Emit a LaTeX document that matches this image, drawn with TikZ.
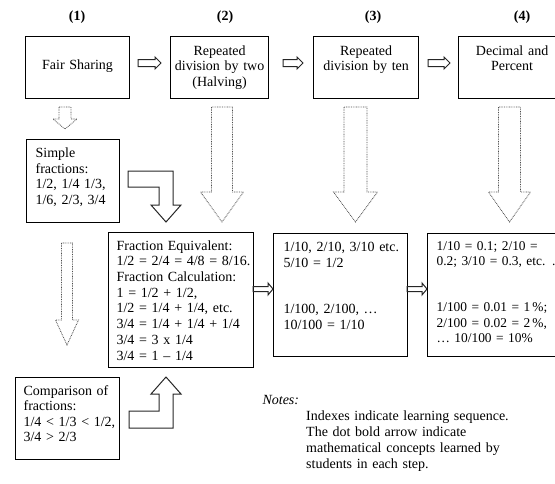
\documentclass[tikz,border=0pt]{standalone}
\usepackage{fontspec}
\setmainfont{Liberation Serif}

% block arrows: style, from, to, centre line, shaft half width, head half width, head length
\newcommand{\harrow}[7]{\draw[#1] (#2,{#4-#5}) -- ({#3-#7},{#4-#5}) -- ({#3-#7},{#4-#6}) -- (#3,#4) -- ({#3-#7},{#4+#6}) -- ({#3-#7},{#4+#5}) -- (#2,{#4+#5}) -- cycle;}
\newcommand{\varrow}[7]{\draw[#1] ({#2-#5},#3) -- ({#2-#5},{#4-#7}) -- ({#2-#6},{#4-#7}) -- (#2,#4) -- ({#2+#6},{#4-#7}) -- ({#2+#5},{#4-#7}) -- ({#2+#5},#3) -- cycle;}
% lines of a box, never broken
\newcommand{\boxlines}[1]{\begin{tabular}[t]{@{}l@{}}#1\end{tabular}}

\begin{document}
\begin{tikzpicture}[x=1pt, y=-1pt,
    box/.style={draw, line width=1.2pt, anchor=north west, inner ysep=0pt, font=\fontsize{14}{15.5}\selectfont},
    hollow/.style={draw=black!85, line width=1pt, line join=miter},
    dotarrow/.style={draw=black!70, line width=0.8pt, dash pattern=on 0.8pt off 0.9pt},
    index/.style={font=\fontsize{14}{15}\selectfont\bfseries}]

    % Frame of the picture
    \useasboundingbox (0,0) rectangle (555,483);
    \clip (0,0) rectangle (555,483);

    % Indexes of the steps
    \node[index] (i1) at (77,17) {(1)};
    \node[index] (i2) at (225,17) {(2)};
    \node[index] (i3) at (373,17) {(3)};
    \node[index] (i4) at (522,17) {(4)};

    % Steps
    \node[box, text width=104pt, inner xsep=0pt, align=center, text height=32.5pt, text depth=29.5pt] (fair) at (25,36) {Fair Sharing};
    \node[box, text width=98pt, inner xsep=0pt, align=center, text height=18.5pt, text depth=43.5pt] (halving) at (170,36) {Repeated\\division by two\\(Halving)};
    \node[box, text width=105pt, inner xsep=0pt, align=center, text height=18.5pt, text depth=43.5pt] (tens) at (313,36) {Repeated\\division by ten};
    \node[box, text width=107pt, inner xsep=0pt, align=center, text height=18.5pt, text depth=43.5pt] (decimal) at (458,36) {Decimal and\\Percent};

    % Concepts learned
    \node[box, text width=75pt, inner xsep=9pt, align=left, text height=18pt, text depth=65pt] (simple) at (26,139)
        {\boxlines{Simple\\fractions:\\1/2, 1/4 1/3,\\1/6, 2/3, 3/4}};
    \node[box, text width=129pt, inner xsep=8pt, align=left, text height=17.5pt, text depth=117.5pt, font=\fontsize{14}{15.7}\selectfont] (equiv) at (108,232)
        {\boxlines{Fraction Equivalent:\\1/2 = 2/4 = 4/8 = 8/16.\\Fraction Calculation:\\1 = 1/2 + 1/2,\\1/2 = 1/4 + 1/4, etc.\\3/4 = 1/4 + 1/4 + 1/4\\3/4 = 3 x 1/4\\3/4 = 1 – 1/4}};
    \node[box, text width=114pt, inner xsep=10pt, align=left, text height=18pt, text depth=105pt] (tenths) at (273,233)
        {\boxlines{1/10, 2/10, 3/10 etc.\\5/10 = 1/2\\[31pt]1/100, 2/100, \ldots\\10/100 = 1/10}};
    \node[box, text width=150pt, inner xsep=9pt, align=left, text height=16.5pt, text depth=106.5pt, font=\fontsize{13.4}{15.5}\selectfont] (percent) at (427,233)
        {\boxlines{1/10 = 0.1; 2/10 =\\0.2; 3/10 = 0.3, etc. .\\[30.5pt]1/100 = 0.01 = 1\,\%;\\2/100 = 0.02 = 2\,\%,\\\ldots\ 10/100 = 10\%}};
    \node[box, text width=88pt, inner xsep=8pt, align=left, text height=17.5pt, text depth=64.5pt] (compare) at (15,377)
        {\boxlines{Comparison of\\fractions:\\1/4 < 1/3 < 1/2,\\3/4 > 2/3}};

    % Sequence arrows
    \harrow{hollow}{138}{161}{63}{3.5}{6}{6}
    \harrow{hollow}{283}{303}{63}{3.5}{6}{6}
    \harrow{hollow}{428}{450}{63}{3.5}{6}{6}
    \harrow{hollow}{253}{273}{289}{2.5}{6}{5}
    \harrow{hollow}{407}{427}{289}{2.5}{6}{5}

    % Bent arrows into the fraction box
    \draw[hollow] (128,171) -- (173,171) -- (173,205) -- (181,205) -- (166,222) -- (151,205) -- (159,205) -- (159,187) -- (128,187) -- cycle;
    \draw[hollow] (129,428) -- (173,428) -- (173,394) -- (181,394) -- (166,377) -- (151,394) -- (159,394) -- (159,411) -- (129,411) -- cycle;

    % Dot bold arrows
    \varrow{dotarrow}{65}{107}{129}{6}{12}{10}
    \varrow{dotarrow}{222}{107}{222}{10.5}{21.5}{30}
    \varrow{dotarrow}{355.5}{107}{222}{11.5}{22}{30}
    \varrow{dotarrow}{509.5}{107}{222}{11}{21}{30}
    \varrow{dotarrow}{67}{243}{345}{5.5}{11.5}{25}

    % Notes
    \node[anchor=base west, font=\fontsize{14}{15}\selectfont\itshape] (notes) at (259,404.5) {Notes:};
    \node[anchor=north west, inner sep=0pt, text width=230pt, align=left, text height=10pt, font=\fontsize{14}{16}\selectfont] (notetext) at (306,410)
        {Indexes indicate learning sequence.\\The dot bold arrow indicate\\mathematical concepts learned by\\students in each step.};

\end{tikzpicture}
\end{document}
